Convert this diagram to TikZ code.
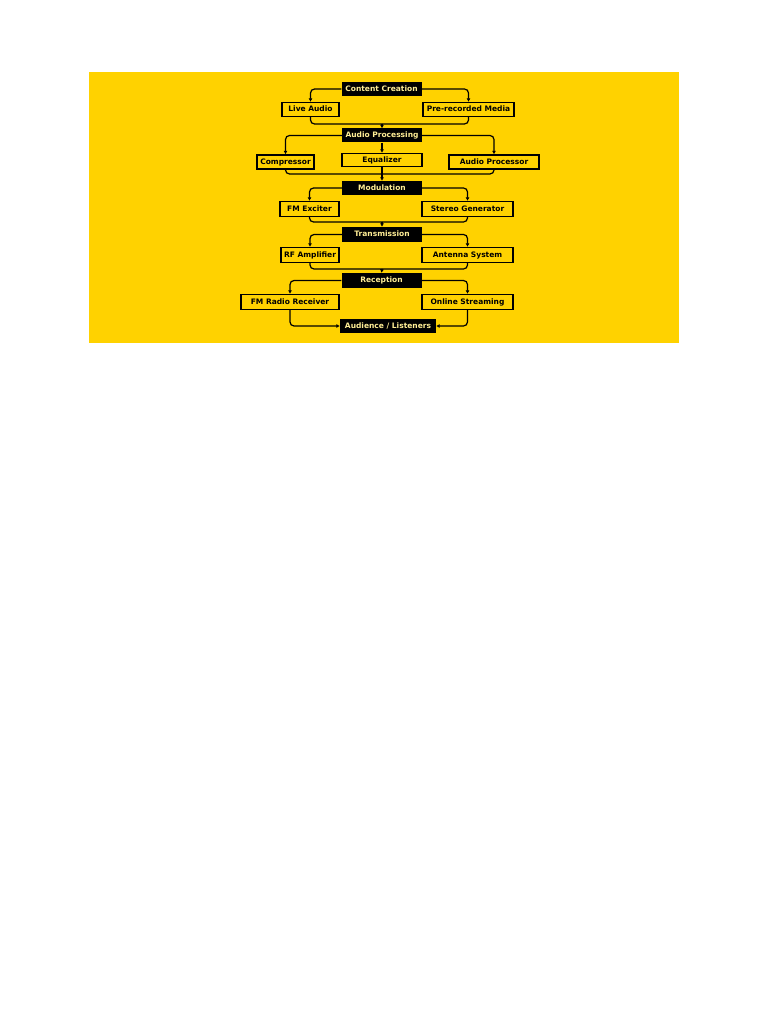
\documentclass[tikz,border=0pt]{standalone}
\usepackage{fontspec}
\setmainfont{DejaVu Sans}
\usetikzlibrary{arrows.meta}
\definecolor{bgyellow}{RGB}{255,210,0}
\definecolor{paleyellow}{RGB}{255,238,150}
\begin{document}
\begin{tikzpicture}[x=1pt, y=-1pt,
    stage style/.style={fill=black, text=paleyellow, font=\bfseries\fontsize{7.5}{8}\selectfont,
        inner sep=0pt, text height=5.6pt, text depth=1.4pt, minimum width=80pt, minimum height=14pt},
    item style/.style={draw=black, fill=bgyellow, line width=1.4pt, font=\bfseries\fontsize{7.5}{8}\selectfont,
        inner sep=0pt, text height=5.6pt, text depth=1.4pt, minimum height=14pt},
    flow style/.style={draw=black, line width=1.2pt, rounded corners=4pt},
    tip style/.style={-{Latex[length=3.5pt,width=4pt]}}]
    \useasboundingbox (0,0) rectangle (768,1024);
    \fill[white] (0,0) rectangle (768,1024);
    \fill[bgyellow] (88.5,72) rectangle (679,343);

    % stages
    \node[stage style] (cc) at (381.5,89) {Content Creation};
    \node[stage style] (ap) at (382,135.5) {Audio Processing};
    \node[stage style] (mod) at (382,188) {Modulation};
    \node[stage style, minimum height=15pt] (trans) at (382,234.5) {Transmission};
    \node[stage style, minimum height=15pt] (rec) at (381.5,280.5) {Reception};
    \node[stage style, minimum width=96pt] (aud) at (388,326) {Audience / Listeners};

    % items
    \node[item style, minimum width=57pt] (live) at (310.5,109.5) {Live Audio};
    \node[item style, minimum width=91pt] (pre) at (468.5,109.5) {Pre-recorded Media};
    \node[item style, minimum width=57pt] (comp) at (285.5,162) {Compressor};
    \node[item style, minimum width=80pt, minimum height=13pt] (eq) at (382,160) {Equalizer};
    \node[item style, minimum width=90pt] (aproc) at (494,162) {Audio Processor};
    \node[item style, minimum width=59pt, minimum height=15pt] (fmex) at (309.5,209) {FM Exciter};
    \node[item style, minimum width=91pt, minimum height=15pt] (stereo) at (467.5,209) {Stereo Generator};
    \node[item style, minimum width=58pt, minimum height=15pt] (rf) at (310,255) {RF Amplifier};
    \node[item style, minimum width=91pt, minimum height=15pt] (ant) at (467.5,255) {Antenna System};
    \node[item style, minimum width=98pt, minimum height=15pt] (fmrr) at (290,302) {FM Radio Receiver};
    \node[item style, minimum width=91pt, minimum height=15pt] (online) at (467.5,302) {Online Streaming};

    % merge points
    \coordinate (m1) at (382,124);
    \coordinate (m2) at (382,174);
    \coordinate (m3) at (382,222);
    \coordinate (m4) at (382,269);

    \draw[flow style, tip style] (cc.west) -| (live.north);
    \draw[flow style, tip style] (cc.east) -| (pre.north);
    \draw[flow style] (live.south) |- (m1);
    \draw[flow style] (pre.south) |- (m1);
    \draw[flow style, tip style] (m1) -- (ap.north);

    \draw[flow style, tip style] (ap.west) -| (comp.north);
    \draw[flow style, tip style] (ap.south) -- (eq.north);
    \draw[flow style, tip style] (ap.east) -| (aproc.north);
    \draw[flow style] (comp.south) |- (m2);
    \draw[flow style] (aproc.south) |- (m2);
    \draw[flow style] (eq.south) -- (m2);
    \draw[flow style, tip style] (m2) -- (mod.north);

    \draw[flow style, tip style] (mod.west) -| (fmex.north);
    \draw[flow style, tip style] (mod.east) -| (stereo.north);
    \draw[flow style] (fmex.south) |- (m3);
    \draw[flow style] (stereo.south) |- (m3);
    \draw[flow style, tip style] (m3) -- (trans.north);

    \draw[flow style, tip style] (trans.west) -| (rf.north);
    \draw[flow style, tip style] (trans.east) -| (ant.north);
    \draw[flow style] (rf.south) |- (m4);
    \draw[flow style] (ant.south) |- (m4);
    \draw[flow style, tip style] (m4) -- (rec.north);

    \draw[flow style, tip style] (rec.west) -| (fmrr.north);
    \draw[flow style, tip style] (rec.east) -| (online.north);
    \draw[flow style, tip style] (fmrr.south) |- (aud.west);
    \draw[flow style, tip style] (online.south) |- (aud.east);

\end{tikzpicture}
\end{document}
